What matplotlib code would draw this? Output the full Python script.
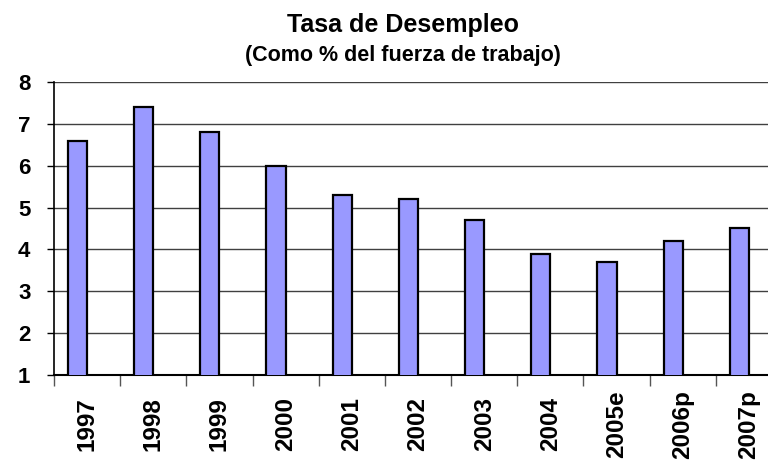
import matplotlib.pyplot as plt
import numpy as np

plt.rcParams['font.family'] = ['Liberation Sans', 'DejaVu Sans']

years = ['1997', '1998', '1999', '2000', '2001', '2002', '2003', '2004', '2005e', '2006p', '2007p']
rates = [6.6, 7.4, 6.8, 6.0, 5.3, 5.2, 4.7, 3.9, 3.7, 4.2, 4.5]

fig = plt.figure(figsize=(7.68, 4.66), dpi=100)
ax = fig.add_axes([0.0703, 0.1953, 0.948, 0.6288])

# bars sit just left of each category centre, like the Excel original
pos = np.arange(len(years))
ax.bar(pos + 0.355, rates, width=0.29, color='#9999FF', edgecolor='black',
       linewidth=1.6, zorder=3)

ax.set_xlim(0, len(years))
ax.set_ylim(1, 8)
ax.set_yticks(range(1, 9))
ax.grid(axis='y', color='#404040', linewidth=1, zorder=0)
ax.set_axisbelow(True)

ax.set_xticks(np.arange(len(years) + 1))
ax.set_xticklabels([])
ax.tick_params(axis='x', length=8, color='#555555', width=1)
ax.tick_params(axis='y', length=5, color='black', width=1, pad=12, labelsize=16)
for lab in ax.get_yticklabels():
    lab.set_fontweight('bold')

for i, y in enumerate(years):
    ax.text(pos[i] + 0.5, -0.168, y, transform=ax.get_xaxis_transform(),
            rotation=90, ha='center', va='center', fontsize=17.5, fontweight='bold')

for s in ['top', 'right']:
    ax.spines[s].set_visible(False)
ax.spines['left'].set_color('black')
ax.spines['bottom'].set_color('black')
ax.spines['left'].set_linewidth(1.2)
ax.spines['bottom'].set_linewidth(1.5)

fig.text(0.525, 0.931, 'Tasa de Desempleo', ha='center', va='baseline',
         fontsize=18, fontweight='bold')
fig.text(0.525, 0.87, '(Como % del fuerza de trabajo)', ha='center', va='baseline',
         fontsize=15.5, fontweight='bold')

fig.savefig('out.png', dpi=100)
